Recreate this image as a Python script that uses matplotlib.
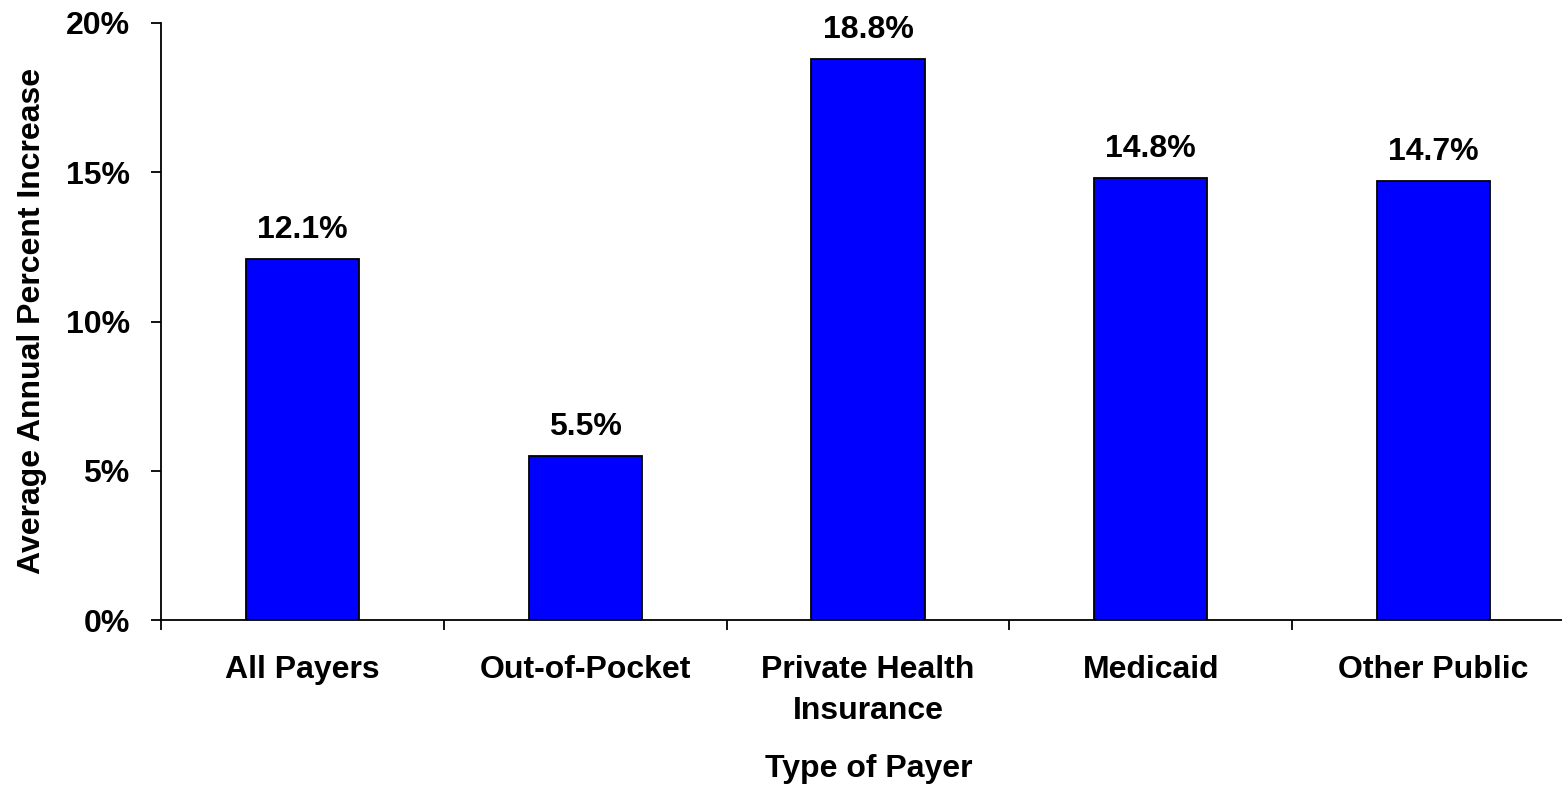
import matplotlib.pyplot as plt
from matplotlib.ticker import FuncFormatter

# data
payers = ['All Payers', 'Out-of-Pocket', 'Private Health\nInsurance', 'Medicaid', 'Other Public']
increase = [12.1, 5.5, 18.8, 14.8, 14.7]

plt.rcParams['font.family'] = ['Liberation Sans', 'DejaVu Sans']
plt.rcParams['font.weight'] = 'bold'
FS = 23

fig = plt.figure(figsize=(15.62, 7.85), dpi=100)
W, H = 1562, 785
ax = fig.add_axes([161 / W, (H - 620) / H, (1575 - 161) / W, (620 - 23) / H])

x = list(range(len(payers)))
ax.bar(x, increase, width=0.4, color='#0000FF', edgecolor='black', linewidth=1.3, zorder=3)

# value labels above bars
for xi, v in zip(x, increase):
    ax.annotate(f'{v:.1f}%', (xi, v), xytext=(0, 10), textcoords='offset points',
                ha='center', va='bottom', fontsize=FS, fontweight='bold')

ax.set_xlim(-0.5, len(payers) - 0.5)
ax.set_ylim(0, 20)
ax.set_yticks([0, 5, 10, 15, 20])
ax.yaxis.set_major_formatter(FuncFormatter(lambda v, p: f'{v:.0f}%'))

ax.set_xticks(x)
ax.set_xticklabels(payers, linespacing=1.5)
ax.set_xticks([i - 0.5 for i in range(len(payers) + 1)], minor=True)
ax.tick_params(axis='x', which='major', length=0, pad=25, labelsize=FS)
ax.tick_params(axis='x', which='minor', length=7, width=1.3, direction='out')
ax.tick_params(axis='y', length=7.5, width=1.3, direction='out', pad=15, labelsize=FS)

for s in ['top', 'right']:
    ax.spines[s].set_visible(False)
for s in ['left', 'bottom']:
    ax.spines[s].set_linewidth(1.3)

fig.text(32 / W, 1 - 321 / H, 'Average Annual Percent Increase', rotation=90,
         ha='center', va='center', fontsize=FS, fontweight='bold')
fig.text(869 / W, 1 - 769 / H, 'Type of Payer',
         ha='center', va='center', fontsize=FS, fontweight='bold')

fig.savefig('out.png', dpi=100)
